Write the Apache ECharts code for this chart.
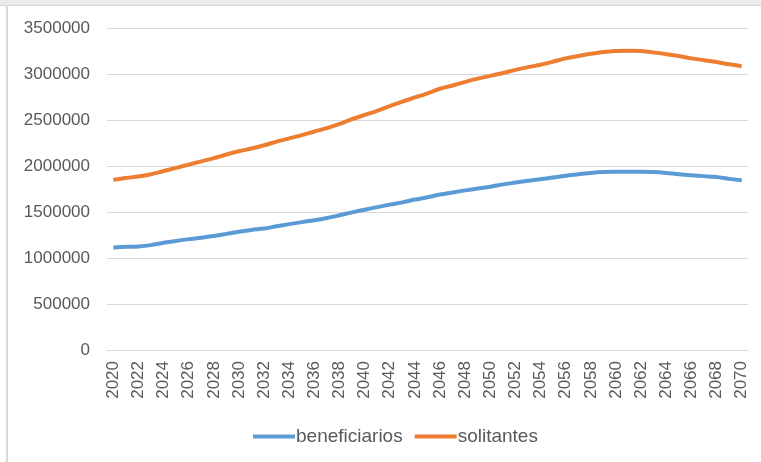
<!DOCTYPE html>
<html>
<head>
<meta charset="utf-8">
<script src="https://cdn.jsdelivr.net/npm/echarts@6/dist/echarts.min.js"></script>
<style>
  html, body { margin: 0; padding: 0; background: #fff; }
  #chart { width: 761px; height: 462px; }
</style>
</head>
<body>
<div id="chart"></div>
<script>
const years = []
for (let y = 2020; y <= 2070; y++) years.push(String(y))

const beneficiarios = [
  1115000, 1122000, 1126000, 1140000, 1165000, 1185000, 1205000, 1220000, 1240000, 1262000,
  1285000, 1305000, 1320000, 1345000, 1368000, 1390000, 1410000, 1435000, 1465000, 1496000,
  1525000, 1553000, 1580000, 1605000, 1635000, 1660000, 1690000, 1713000, 1735000, 1755000,
  1775000, 1800000, 1820000, 1840000, 1855000, 1875000, 1895000, 1910000, 1925000, 1935000,
  1938000, 1938000, 1938000, 1935000, 1925000, 1910000, 1900000, 1890000, 1880000, 1860000,
  1845000
]

const solitantes = [
  1850000, 1870000, 1885000, 1910000, 1945000, 1980000, 2015000, 2050000, 2085000, 2125000,
  2160000, 2190000, 2225000, 2265000, 2300000, 2335000, 2375000, 2412000, 2458000, 2510000,
  2555000, 2600000, 2650000, 2700000, 2745000, 2790000, 2840000, 2875000, 2915000, 2950000,
  2980000, 3011000, 3045000, 3075000, 3100000, 3135000, 3170000, 3195000, 3220000, 3240000,
  3250000, 3252000, 3250000, 3235000, 3215000, 3195000, 3170000, 3150000, 3130000, 3105000,
  3085000
]

const font = '"Liberation Sans", sans-serif'
const grey = '#595959'

const chart = echarts.init(document.getElementById('chart'))
chart.setOption({
  backgroundColor: '#fff',
  animation: false,
  graphic: [
    { type: 'rect', shape: { x: 0, y: 0, width: 761, height: 5 }, style: { fill: '#ececec' } },
    { type: 'line', shape: { x1: 0, y1: 5.5, x2: 761, y2: 5.5 }, style: { stroke: '#d6d6d6', lineWidth: 1 } },
    { type: 'line', shape: { x1: 7, y1: 5, x2: 7, y2: 462 }, style: { stroke: '#d9d9d9', lineWidth: 2 } }
  ],
  grid: { left: 107, right: 13, top: 28, bottom: 112 },
  legend: {
    left: 248,
    top: 422,
    icon: 'rect',
    itemWidth: 42,
    itemHeight: 4,
    itemGap: 12,
    textStyle: { color: grey, fontFamily: font, fontSize: 19, padding: [0, 0, 0, -4] },
    data: ['beneficiarios', 'solitantes']
  },
  xAxis: {
    type: 'category',
    data: years,
    boundaryGap: true,
    axisLine: { show: true, lineStyle: { color: '#d9d9d9' } },
    axisTick: { show: false },
    axisLabel: {
      rotate: 90,
      interval: 1,
      margin: 11,
      color: grey,
      fontFamily: font,
      fontSize: 17
    }
  },
  yAxis: {
    type: 'value',
    min: 0,
    max: 3500000,
    interval: 500000,
    axisLine: { show: false },
    axisTick: { show: false },
    splitLine: { lineStyle: { color: '#d9d9d9' } },
    axisLabel: {
      margin: 17,
      color: grey,
      fontFamily: font,
      fontSize: 17,
      formatter: v => String(v)
    }
  },
  series: [
    {
      name: 'beneficiarios',
      type: 'line',
      data: beneficiarios,
      showSymbol: false,
      smooth: 0.3,
      color: '#5b9bd5',
      lineStyle: { width: 4, color: '#5b9bd5' }
    },
    {
      name: 'solitantes',
      type: 'line',
      data: solitantes,
      showSymbol: false,
      smooth: 0.3,
      color: '#ed7d31',
      lineStyle: { width: 4, color: '#ed7d31' }
    }
  ]
})
</script>
</body>
</html>
